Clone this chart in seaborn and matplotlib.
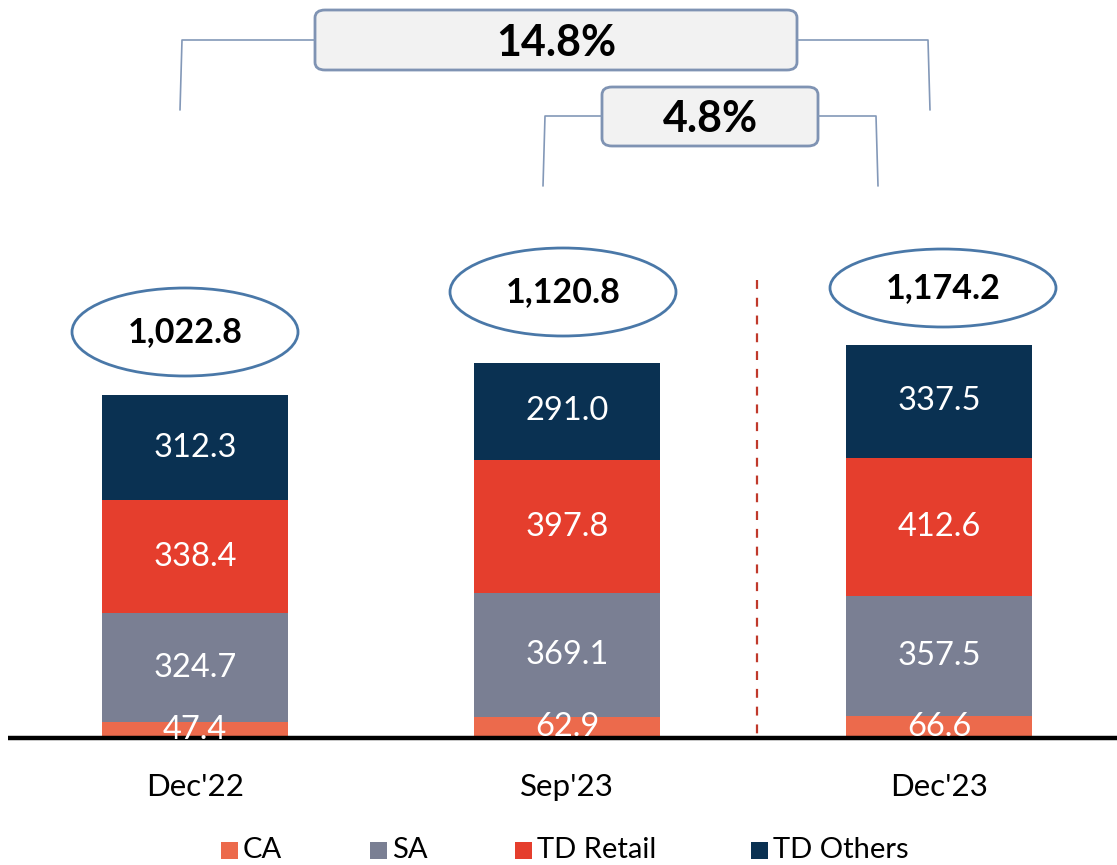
import numpy as np
import pandas as pd
import matplotlib
matplotlib.use("Agg")
import matplotlib.pyplot as plt
from matplotlib.patches import Ellipse, FancyBboxPatch, Rectangle
import seaborn as sns

periods = ["Dec'22", "Sep'23", "Dec'23"]
series = ["CA", "SA", "TD Retail", "TD Others"]
ca = [47.4, 62.9, 66.6]
sa = [324.7, 369.1, 357.5]
td_retail = [338.4, 397.8, 412.6]
td_others = [312.3, 291.0, 337.5]
totals = ["1,022.8", "1,120.8", "1,174.2"]
growth_labels = ["14.8%", "4.8%"]

colors = {
    'CA': '#EC6A4C',
    'SA': '#7A7F93',
    'TD Retail': '#E53E2D',
    'TD Others': '#0A3152',
}

W, H = 1117, 865
sns.set_theme(style="white")
plt.rcParams['font.family'] = ['Lato', 'DejaVu Sans']

fig = plt.figure(figsize=(W / 100, H / 100), dpi=100)
ax = fig.add_axes([0, 0, 1, 1])

df = pd.DataFrame({'period': periods, 'CA': ca, 'SA': sa,
                   'TD Retail': td_retail, 'TD Others': td_others})
cum = df[series].cumsum(axis=1)

# draw cumulative bars from the top series down so they stack visually
for s in reversed(series):
    sns.barplot(x=df['period'], y=cum[s], color=colors[s], width=0.5,
                linewidth=0, saturation=1, ax=ax, zorder=2)

# pixel mapping: category 0 at x=195px, 372px per category; baseline at 738px, 0.335px per unit
px_per_x = 372.0
px_per_y = 0.335
x0_px, base_px = 195.0, 738.0
ax.set_xlim(-x0_px / px_per_x, (W - x0_px) / px_per_x)
ax.set_ylim(-(H - base_px) / px_per_y, base_px / px_per_y)
ax.axis('off')

# segment labels
for i in range(len(periods)):
    bottom = 0
    for s in series:
        v = df[s][i]
        ax.text(i, bottom + v / 2, f"{v:.1f}", color='white', ha='center',
                va='center', fontsize=23.5, zorder=5)
        bottom += v

# baseline
ax.plot([(8 - x0_px) / px_per_x, W], [0, 0], color='black', lw=3.2,
        zorder=4, solid_capstyle='butt')

# category labels
for i, p in enumerate(periods):
    ax.text(i, -49 / px_per_y, p, ha='center', va='center', fontsize=22.5,
            color='black')


def fx(x):
    return x / W


def fy(y):
    return 1 - y / H


# ellipses with totals
ell = [(185, 332, 226, 88), (563, 292, 226, 88), (943, 288, 226, 78)]
for (cx, cy, w, h), t in zip(ell, totals):
    fig.patches.append(Ellipse((fx(cx), fy(cy)), w / W, h / H,
                               transform=fig.transFigure, facecolor='white',
                               edgecolor='#4A78A8', lw=2))
    fig.text(fx(cx), fy(cy), t, ha='center', va='center', fontsize=24.5,
             fontweight='bold', color='black')

# dashed separator
fig.add_artist(plt.Line2D([fx(757), fx(757)], [fy(280), fy(738)],
                          color='#C0392B', lw=1.6, ls=(0, (4, 4))))

# growth brackets
bracket_color = '#8398B8'
brackets = [
    # left x, right x, top y, bottom y, box x0, box x1, box y0, box y1
    (181, 929, 40, 110, 315, 797, 10, 70),
    (544, 877, 116, 186, 602, 818, 87, 146),
]
for (lx, rx, ty, by, bx0, bx1, by0, by1), lab in zip(brackets, growth_labels):
    fig.add_artist(plt.Line2D([fx(lx - 1), fx(lx + 1), fx(bx0)],
                              [fy(by), fy(ty), fy(ty)], color=bracket_color, lw=1.2))
    fig.add_artist(plt.Line2D([fx(bx1), fx(rx - 1), fx(rx + 1)],
                              [fy(ty), fy(ty), fy(by)], color=bracket_color, lw=1.2))
    box = FancyBboxPatch((fx(bx0), fy(by1)), (bx1 - bx0) / W, (by1 - by0) / H,
                         boxstyle="round,pad=0,rounding_size=0.009",
                         transform=fig.transFigure, facecolor='#F2F2F2',
                         edgecolor='#7F93B3', lw=2)
    fig.patches.append(box)
    fig.text(fx((bx0 + bx1) / 2), fy((by0 + by1) / 2) - 0.003, lab, ha='center',
             va='center', fontsize=31, fontweight='bold', color='black')

# legend, placed by hand to follow the original spacing
legend_x = [221, 370, 515, 751]
for s, lx in zip(series, legend_x):
    fig.patches.append(Rectangle((fx(lx), fy(859)), 17 / W, 17 / H,
                                 transform=fig.transFigure,
                                 facecolor=colors[s], edgecolor='none'))
    fig.text(fx(lx + 22), fy(850), s, ha='left', va='center', fontsize=21,
             color='black')

fig.savefig('out.png', dpi=100)
